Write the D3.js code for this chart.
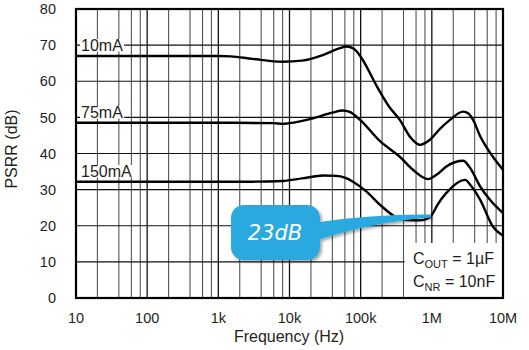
<!DOCTYPE html>
<html><head><meta charset="utf-8">
<script src="https://cdn.jsdelivr.net/npm/d3@7"></script>
<style>body{margin:0;background:#fff}svg{display:block}text{font-family:"Liberation Sans",Arial,sans-serif;fill:#231f20}</style>
</head><body><svg id="c" width="529" height="350"></svg>
<script>
const yTicks = [0,10,20,30,40,50,60,70,80];
const xTicks = [10,100,1e3,1e4,1e5,1e6,1e7];
const xTickLabels = ["10","100","1k","10k","100k","1M","10M"];
const seriesNames = ["10mA","75mA","150mA"];
const s10mA = [[10,67],[100,67],[1000,67],[1500,66.9],[3000,66.2],[8000,65.4],[15000,65.7],[30000,67.3],[50000,69.1],[63000,69.6],[80000,69],[100000,66.8],[170000,58.5],[250000,53],[355000,49.3],[490000,44.7],[680000,42.4],[940000,43.8],[1300000,46.8],[1800000,49.3],[2750000,51.6],[3300000,51],[3800000,49.3],[4800000,44.7],[6000000,41.4],[7500000,38.6],[10000000,35.5]];
const s75mA = [[10,48.5],[1000,48.5],[6000,48.4],[8000,48.2],[10000,48.4],[20000,49.6],[40000,51.3],[56000,51.9],[70000,51.5],[98000,49.3],[187000,43.4],[355000,39.1],[543000,35.5],[880000,32.9],[1200000,34.3],[1600000,36.4],[2750000,38],[3400000,36.2],[4800000,30.8],[6600000,27.1],[10000000,23.5]];
const s150mA = [[10,32.2],[3000,32.2],[8000,32.4],[15000,33.1],[30000,33.9],[45000,33.8],[60000,33.3],[78000,32.2],[120000,29.5],[187000,25.8],[333000,22.1],[450000,21.6],[680000,21.5],[880000,22],[1000000,23],[1200000,25.8],[1600000,29.1],[2940000,32.7],[3500000,31.2],[4800000,27.1],[7200000,19.8],[10000000,17.2]];
const seriesData = [s10mA, s75mA, s150mA];
const labelPos = [[10,70],[10,50],[10,33]];
const calloutText = "23dB";

const svg = d3.select("#c");
const x = d3.scaleLog().domain([10,1e7]).range([76,503]);
const y = d3.scaleLinear().domain([0,80]).range([298,9]);

// grid
const minor = [];
for (let d=10; d<1e7; d*=10) for (const m of [2,4,6,8]) minor.push(d*m);
svg.append("g").selectAll("line").data(minor).join("line")
  .attr("x1",d=>x(d)).attr("x2",d=>x(d)).attr("y1",y(0)).attr("y2",y(80))
  .attr("stroke","#555").attr("stroke-width",1.1);
svg.append("g").selectAll("line").data(xTicks).join("line")
  .attr("x1",d=>x(d)).attr("x2",d=>x(d)).attr("y1",y(0)).attr("y2",y(80))
  .attr("stroke","#111").attr("stroke-width",1.3);
svg.append("g").selectAll("line").data(yTicks).join("line")
  .attr("x1",x(10)).attr("x2",x(1e7)).attr("y1",d=>y(d)).attr("y2",d=>y(d))
  .attr("stroke","#111").attr("stroke-width",1.2);

// conditions box background
svg.append("rect").attr("x",x(4e5)+1).attr("y",243).attr("width",x(1e7)-x(4e5)-2).attr("height",y(0)-243)
  .attr("fill","#fff");

// curves
const line = d3.line().x(d=>x(d[0])).y(d=>y(d[1])).curve(d3.curveMonotoneX);
svg.append("g").selectAll("path").data(seriesData).join("path")
  .attr("d",line).attr("fill","none").attr("stroke","#000").attr("stroke-width",2.4)
  .attr("stroke-linejoin","round");

// frame
svg.append("rect").attr("x",x(10)).attr("y",y(80)).attr("width",x(1e7)-x(10)).attr("height",y(0)-y(80))
  .attr("fill","none").attr("stroke","#000").attr("stroke-width",2.2);

// series labels
const lab = svg.append("g");
const baselines = [51, 118, 177];
seriesNames.forEach((n,i)=>{
  const t = lab.append("text").attr("x",81).attr("y",baselines[i]).attr("font-size",16).text(n);
  const b = t.node().getBBox();
  lab.insert("rect","text").attr("x",b.x-1).attr("y",b.y+2).attr("width",b.width+2).attr("height",b.height-4.5).attr("fill","#fff");
});

// condition text
const ct = svg.append("g").attr("font-size",16);
const t1 = ct.append("text").attr("x",413).attr("y",264);
t1.append("tspan").text("C");
t1.append("tspan").attr("font-size",11).attr("dy",4).text("OUT");
t1.append("tspan").attr("dy",-4).text(" = 1\u00b5F");
const t2 = ct.append("text").attr("x",413).attr("y",287);
t2.append("tspan").text("C");
t2.append("tspan").attr("font-size",11).attr("dy",4).text("NR");
t2.append("tspan").attr("dy",-4).text(" = 10nF");

// axes labels
svg.append("g").selectAll("text").data(yTicks).join("text")
  .attr("x",56).attr("y",d=>y(d)).attr("dy","0.36em").attr("text-anchor","end").attr("font-size",14.5).text(d=>d);
svg.append("g").selectAll("text").data(xTicks).join("text")
  .attr("x",d=>x(d)).attr("y",323).attr("text-anchor","middle").attr("font-size",14.5).text((d,i)=>xTickLabels[i]);
svg.append("text").attr("x",289).attr("y",342).attr("text-anchor","middle").attr("font-size",16).text("Frequency (Hz)");
svg.append("text").attr("transform","translate(17,149) rotate(-90)").attr("text-anchor","middle").attr("font-size",16).text("PSRR (dB)");

// callout
const defs = svg.append("defs");
const f = defs.append("filter").attr("id","sh").attr("x","-20%").attr("y","-20%").attr("width","150%").attr("height","150%");
f.append("feDropShadow").attr("dx",2).attr("dy",2).attr("stdDeviation",1.5).attr("flood-color","#000").attr("flood-opacity",0.35);
const cg = svg.append("g").attr("filter","url(#sh)");
cg.append("path").attr("d","M312,223 Q370,214 431,214.5 L431,217.5 Q370,222 312,242 Z").attr("fill","#29a8e0");
cg.append("rect").attr("x",231).attr("y",205).attr("width",89).attr("height",55).attr("rx",13).attr("fill","#29a8e0");
svg.append("text").attr("x",275).attr("y",240).attr("text-anchor","middle").attr("font-size",21)
  .attr("font-style","italic").style("font-family","'DejaVu Sans',sans-serif").style("font-weight",300)
  .style("fill","#fff").text(calloutText);
</script></body></html>
